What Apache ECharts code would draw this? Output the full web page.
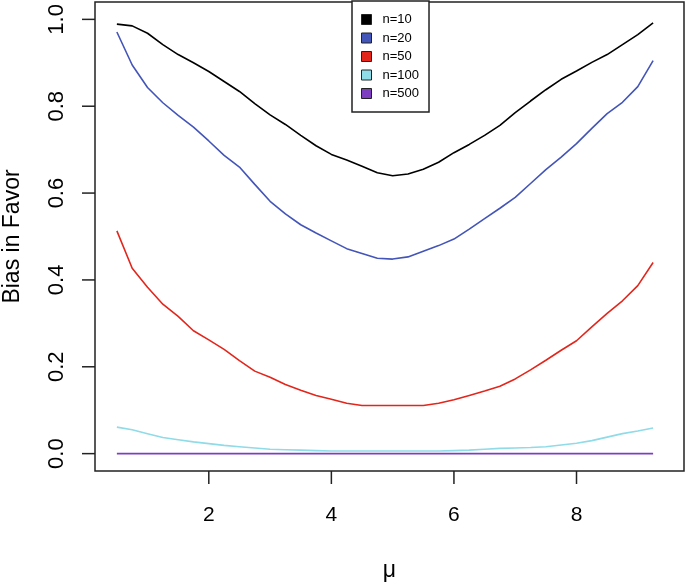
<!DOCTYPE html>
<html>
<head>
<meta charset="utf-8">
<script src="https://cdn.jsdelivr.net/npm/echarts@6/dist/echarts.min.js"></script>
<style>
  html, body { margin: 0; padding: 0; background: #fff; }
  #chart { width: 685px; height: 582px; }
</style>
</head>
<body>
<div id="chart"></div>
<script>
var mu = [0.5, 0.75, 1, 1.25, 1.5, 1.75, 2, 2.25, 2.5, 2.75, 3, 3.25, 3.5, 3.75, 4, 4.25, 4.5, 4.75,
          5, 5.25, 5.5, 5.75, 6, 6.25, 6.5, 6.75, 7, 7.25, 7.5, 7.75, 8, 8.25, 8.5, 8.75, 9, 9.25];

var n10 = [0.989, 0.985, 0.968, 0.942, 0.919, 0.900, 0.880, 0.857, 0.834, 0.806, 0.780, 0.758, 0.733, 0.709, 0.689, 0.676, 0.662, 0.647,
           0.640, 0.644, 0.655, 0.671, 0.693, 0.712, 0.733, 0.756, 0.785, 0.812, 0.838, 0.862, 0.881, 0.901, 0.919, 0.942, 0.965, 0.992];
var n20 = [0.971, 0.895, 0.843, 0.808, 0.779, 0.752, 0.720, 0.687, 0.660, 0.620, 0.581, 0.552, 0.527, 0.508, 0.490, 0.472, 0.461, 0.450,
           0.448, 0.453, 0.466, 0.479, 0.494, 0.517, 0.541, 0.565, 0.590, 0.622, 0.654, 0.683, 0.714, 0.749, 0.783, 0.809, 0.845, 0.905];
var n50 = [0.513, 0.427, 0.383, 0.344, 0.316, 0.283, 0.262, 0.240, 0.214, 0.190, 0.176, 0.159, 0.146, 0.134, 0.125, 0.116, 0.111, 0.111,
           0.111, 0.111, 0.111, 0.116, 0.124, 0.134, 0.144, 0.155, 0.172, 0.193, 0.215, 0.238, 0.260, 0.292, 0.323, 0.352, 0.387, 0.440];
var n100 = [0.061, 0.055, 0.046, 0.037, 0.032, 0.027, 0.023, 0.019, 0.016, 0.013, 0.010, 0.009, 0.008, 0.007, 0.006, 0.006, 0.006, 0.006,
            0.006, 0.006, 0.006, 0.006, 0.007, 0.008, 0.010, 0.012, 0.013, 0.014, 0.016, 0.020, 0.024, 0.030, 0.038, 0.046, 0.052, 0.059];
var n500 = [0, 0, 0, 0, 0, 0, 0, 0, 0, 0, 0, 0, 0, 0, 0, 0, 0, 0,
            0, 0, 0, 0, 0, 0, 0, 0, 0, 0, 0, 0, 0, 0, 0, 0, 0, 0];

var seriesNames = ["n=10", "n=20", "n=50", "n=100", "n=500"];
var seriesColors = ["#000000", "#4355b9", "#e3261c", "#8fdbe8", "#7d3fc0"];
var xTicks = [2, 4, 6, 8];
var yTicks = [0, 0.2, 0.4, 0.6, 0.8, 1.0];

// R-style plot box (data range padded by 4%)
var boxX = [0.143, 9.754];
var boxY = [-0.04, 1.04];

var font = "Liberation Sans";

function pairs(ys) {
    var out = [];
    for (var i = 0; i < mu.length; i++) {
        out.push([mu[i], ys[i]]);
    }
    return out;
}

var chart = echarts.init(document.getElementById("chart"));

var allValues = [n10, n20, n50, n100, n500];
var series = [];
for (var k = 0; k < seriesNames.length; k++) {
    series.push({
        name: seriesNames[k],
        type: 'line',
        data: pairs(allValues[k]),
        showSymbol: false,
        color: seriesColors[k],
        lineStyle: {width: 1.6, color: seriesColors[k]},
        z: 3
    });
}

chart.setOption({
    animation: false,
    backgroundColor: '#fff',
    textStyle: {fontFamily: font},
    tooltip: {show: false},
    grid: {
        left: 95,
        right: 1,
        top: 2,
        bottom: 111,
        show: true,
        borderColor: '#222',
        borderWidth: 1.5,
        outerBoundsMode: 'none'
    },
    legend: {
        orient: 'vertical',
        left: 352,
        top: 1,
        icon: 'rect',
        itemWidth: 10,
        itemHeight: 10,
        itemGap: 5.5,
        padding: [12, 10, 12, 9],
        borderColor: '#222',
        borderWidth: 1.5,
        backgroundColor: '#fff',
        itemStyle: {borderColor: '#222', borderWidth: 1},
        textStyle: {
            fontFamily: font,
            fontSize: 13,
            lineHeight: 12,
            color: '#000',
            padding: [0, 0, 0, 6]
        },
        data: seriesNames,
        z: 10
    },
    xAxis: {
        type: 'value',
        min: boxX[0],
        max: boxX[1],
        name: 'μ',
        nameLocation: 'middle',
        nameGap: 88,
        nameTextStyle: {fontFamily: font, fontSize: 23, color: '#000'},
        axisLine: {show: false, onZero: false},
        axisTick: {show: false},
        axisLabel: {
            customValues: xTicks,
            fontFamily: font,
            fontSize: 21,
            color: '#000',
            margin: 34
        },
        splitLine: {show: false}
    },
    yAxis: {
        type: 'value',
        min: boxY[0],
        max: boxY[1],
        name: 'Bias in Favor',
        nameLocation: 'middle',
        nameRotate: 90,
        nameGap: 71,
        nameTextStyle: {fontFamily: font, fontSize: 23, color: '#000'},
        axisLine: {show: false, onZero: false},
        axisTick: {show: false},
        axisLabel: {
            customValues: yTicks,
            rotate: 90,
            fontFamily: font,
            fontSize: 22,
            color: '#000',
            margin: 27,
            formatter: function (v) {
                return v.toFixed(1);
            }
        },
        splitLine: {show: false}
    },
    series: series
});

// outward tick marks, placed through the axis scales after layout
var tickMarks = [];
xTicks.forEach(function (t) {
    var p = chart.convertToPixel({gridIndex: 0}, [t, boxY[0]]);
    tickMarks.push({
        type: 'line',
        z: 100,
        silent: true,
        shape: {x1: p[0], y1: p[1], x2: p[0], y2: p[1] + 13},
        style: {stroke: '#222', lineWidth: 1.5}
    });
});
yTicks.forEach(function (t) {
    var p = chart.convertToPixel({gridIndex: 0}, [boxX[0], t]);
    tickMarks.push({
        type: 'line',
        z: 100,
        silent: true,
        shape: {x1: p[0] - 13, y1: p[1], x2: p[0], y2: p[1]},
        style: {stroke: '#222', lineWidth: 1.5}
    });
});
chart.setOption({graphic: tickMarks});
</script>
</body>
</html>
